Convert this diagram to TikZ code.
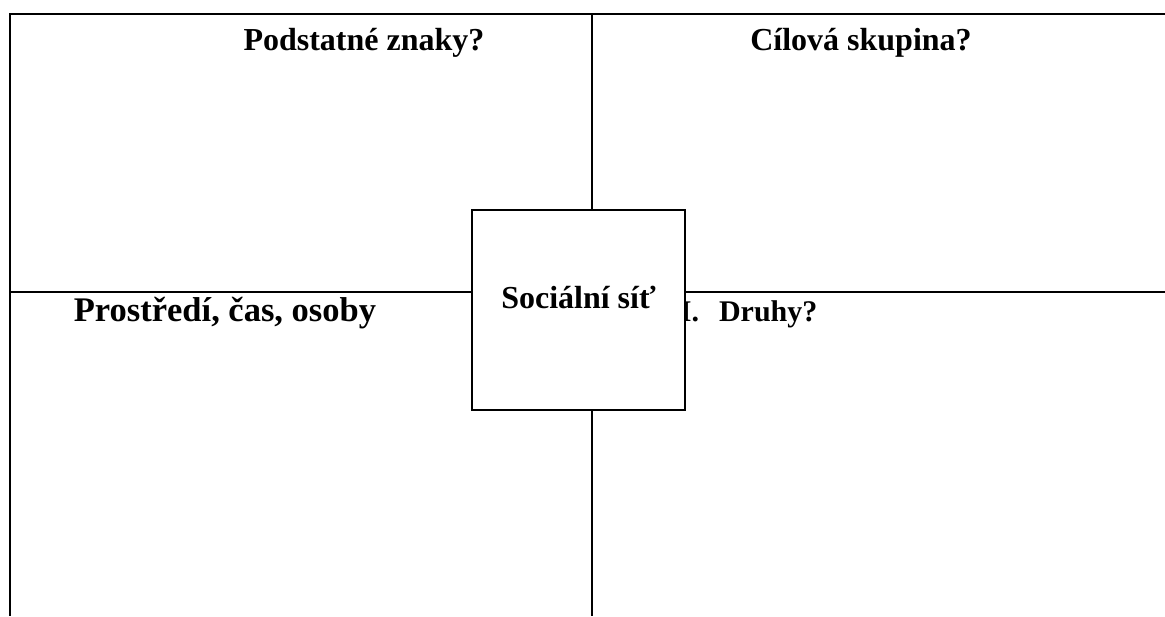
\documentclass[tikz,border=0pt]{standalone}
\usepackage{fontspec}
\setmainfont{Liberation Serif}
\tikzset{
  frame/.style={line width=2.5pt},
  heading/.style={font=\bfseries\fontsize{32}{38}\selectfont, inner sep=0pt, anchor=base},
  hub/.style={draw, line width=1.8pt, fill=white, minimum width=213pt, minimum height=200pt, inner sep=0pt}
}
\begin{document}
\begin{tikzpicture}[x=1pt,y=-1pt]
  \useasboundingbox (0,0) rectangle (1165,616);
  \coordinate (topleft) at (10,14);
  \coordinate (topright) at (1165,14);
  \coordinate (bottomleft) at (10,616);
  \coordinate (midleft) at (10,292);
  \coordinate (midright) at (1165,292);
  \coordinate (midtop) at (592,14);
  \coordinate (midbottom) at (592,616);
  \draw[frame] (topright) -- (topleft) -- (bottomleft);
  \draw[frame] (midleft) -- (midright);
  \draw[frame] (midtop) -- (midbottom);
  \node[heading] (signs) at (364,50) {Podstatné znaky?};
  \node[heading] (group) at (861,50) {Cílová skupina?};
  \node[heading, font=\bfseries\fontsize{34.5}{40}\selectfont] (setting) at (225,321) {Prostředí, čas, osoby};
  \node[heading, anchor=base west, font=\bfseries\fontsize{30}{35}\selectfont] (kinds) at (668,321) {II.\hspace{20pt}Druhy?};
  \node[hub] (hub) at (578.5,310) {};
  \node[heading] (hubname) at (578.5,308) {Sociální síť};
\end{tikzpicture}
\end{document}
